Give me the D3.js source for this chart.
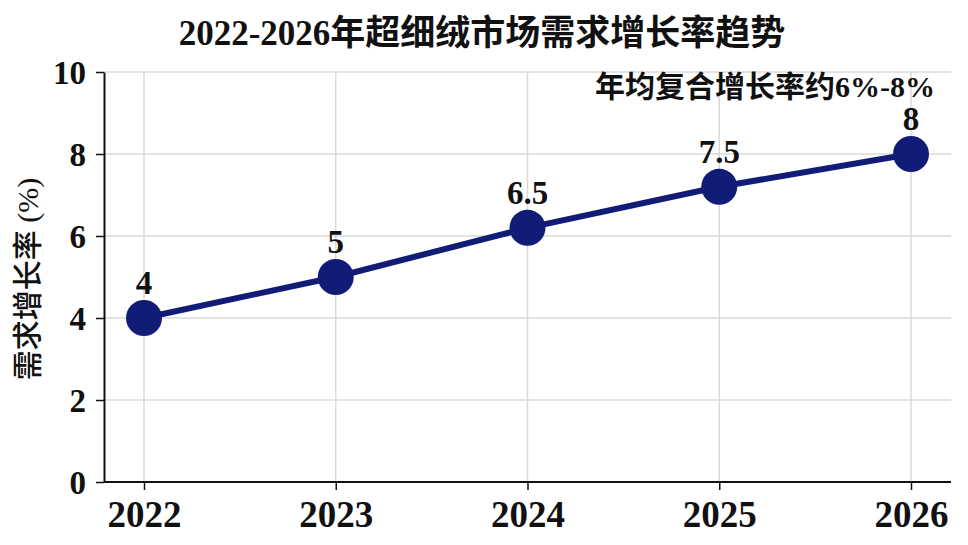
<!DOCTYPE html>
<html>
<head>
<meta charset="utf-8">
<script src="https://cdn.jsdelivr.net/npm/d3@7"></script>
<style>
  html, body { margin: 0; padding: 0; background: #ffffff; }
  svg { display: block; }
</style>
</head>
<body>
<svg id="chart" width="968" height="545"></svg>
<script>
const title = "2022-2026年超细绒市场需求增长率趋势";
const yAxisTitle = "需求增长率 (%)";
const annotation = "年均复合增长率约6%-8%";
const years = ["2022", "2023", "2024", "2025", "2026"];
const values = [4, 5, 6.2, 7.2, 8];
const labels = ["4", "5", "6.5", "7.5", "8"];
const yTicks = [0, 2, 4, 6, 8, 10];

const W = 968, H = 545;
const margin = { left: 104, right: 17, top: 72, bottom: 63 };
const svg = d3.select("#chart");
const serif = "'Liberation Serif', 'Times New Roman', 'Noto Sans CJK SC', serif";
const navy = "#101c76";

const x = d3.scalePoint().domain(years).range([144, 911]);
const y = d3.scaleLinear().domain([0, 10]).range([H - margin.bottom, margin.top]);

// grid
const g = svg.append("g");
g.selectAll("line.h").data(yTicks.filter(d => d > 0)).enter().append("line")
  .attr("x1", margin.left).attr("x2", W - margin.right)
  .attr("y1", d => y(d)).attr("y2", d => y(d))
  .attr("stroke", "#dadada").attr("stroke-width", 1.5);
g.selectAll("line.v").data(years).enter().append("line")
  .attr("x1", d => x(d)).attr("x2", d => x(d))
  .attr("y1", y(10)).attr("y2", y(0))
  .attr("stroke", "#dadada").attr("stroke-width", 1.5);

// axes
const yAxis = svg.append("g").attr("transform", `translate(${margin.left},0)`)
  .call(d3.axisLeft(y).tickValues(yTicks).tickSize(8).tickPadding(10).tickSizeOuter(0));
const xAxis = svg.append("g").attr("transform", `translate(0,${y(0)})`)
  .call(d3.axisBottom(x).tickSize(8).tickPadding(8).tickSizeOuter(0));
xAxis.select(".domain").attr("d", `M${margin.left},0H${W - margin.right}`);
[yAxis, xAxis].forEach(a => {
  a.select(".domain").attr("stroke", "#111").attr("stroke-width", 2);
  a.selectAll(".tick line").attr("stroke", "#111").attr("stroke-width", 1.5);
  a.selectAll(".tick text").attr("fill", "#111").attr("font-family", serif).attr("font-weight", "bold");
});
yAxis.selectAll(".tick text").attr("font-size", 33).attr("dy", "0.36em");
xAxis.selectAll(".tick text").attr("font-size", 37).attr("dy", "0.78em");

// line
const line = d3.line().x((d, i) => x(years[i])).y(d => y(d));
svg.append("path").datum(values).attr("d", line)
  .attr("fill", "none").attr("stroke", navy).attr("stroke-width", 6);
svg.selectAll("circle.pt").data(values).enter().append("circle")
  .attr("cx", (d, i) => x(years[i])).attr("cy", d => y(d)).attr("r", 18)
  .attr("fill", navy);
svg.selectAll("text.lbl").data(values).enter().append("text")
  .attr("x", (d, i) => x(years[i])).attr("y", d => y(d) - 24)
  .attr("text-anchor", "middle").attr("font-family", serif).attr("font-weight", "bold")
  .attr("font-size", 33).attr("fill", "#111").text((d, i) => labels[i]);

// title
svg.append("text").attr("x", 482).attr("y", 45).attr("text-anchor", "middle")
  .attr("font-family", serif).attr("font-weight", "bold").attr("font-size", 35)
  .attr("fill", "#111").text(title);

// annotation
svg.append("text").attr("x", 935).attr("y", 97).attr("text-anchor", "end")
  .attr("font-family", serif).attr("font-weight", "bold").attr("font-size", 30)
  .attr("fill", "#111").text(annotation);

// y axis title
svg.append("text").attr("transform", `translate(38,279) rotate(-90)`)
  .attr("text-anchor", "middle").attr("font-family", serif).attr("font-size", 30)
  .attr("font-weight", 500)
  .attr("fill", "#111").text(yAxisTitle);
</script>
</body>
</html>
